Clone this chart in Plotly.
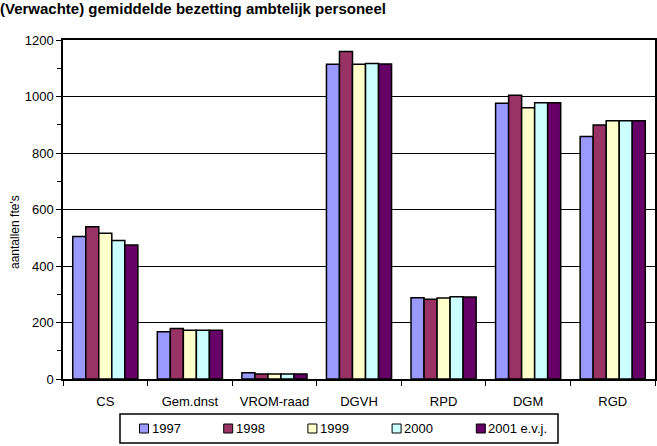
import plotly.graph_objects as go

categories = ["CS", "Gem.dnst", "VROM-raad", "DGVH", "RPD", "DGM", "RGD"]
series_names = ["1997", "1998", "1999", "2000", "2001 e.v.j."]
v1997 = [504, 167, 22, 1114, 288, 976, 858]
v1998 = [539, 179, 18, 1159, 282, 1004, 899]
v1999 = [516, 173, 18, 1114, 287, 960, 914]
v2000 = [490, 173, 18, 1117, 291, 978, 914]
v2001 = [474, 173, 18, 1115, 290, 978, 914]
series_values = [v1997, v1998, v1999, v2000, v2001]
colors = ["#9999FF", "#993366", "#FFFFCC", "#CCFFFF", "#660066"]

FONT = "Liberation Sans, Arial, Helvetica, sans-serif"

W, H = 657, 446
ML, MR, MT, MB = 63, 2, 40, 67
PW, PH = W - ML - MR, H - MT - MB


def px_x(px):
    return (px - ML) / PW


def px_y(py):
    return (H - MB - py) / PH


fig = go.Figure()
for name, vals, col in zip(series_names, series_values, colors):
    fig.add_trace(go.Bar(
        x=categories, y=vals, name=name, showlegend=False,
        marker=dict(color=col, line=dict(color="black", width=1.5)),
    ))

# Manual legend (box + swatches + labels)
shapes = [dict(type="rect", xref="paper", yref="paper",
               x0=px_x(120), x1=px_x(558), y0=px_y(443), y1=px_y(414),
               line=dict(color="black", width=1.5), fillcolor="white", layer="above")]
annotations = []
for i, (name, col) in enumerate(zip(series_names, colors)):
    sx = 139.5 + i * 84.2
    shapes.append(dict(type="rect", xref="paper", yref="paper",
                       x0=px_x(sx), x1=px_x(sx + 9), y0=px_y(433), y1=px_y(424),
                       line=dict(color="black", width=1), fillcolor=col, layer="above"))
    annotations.append(dict(text=name, xref="paper", yref="paper",
                            x=px_x(sx + 10), y=px_y(428.5), xanchor="left", yanchor="middle",
                            showarrow=False, font=dict(family=FONT, size=13)))

annotations.append(dict(text="aantallen fte's", xref="paper", yref="paper",
                        x=px_x(15), y=px_y(232), textangle=-90,
                        showarrow=False, xanchor="center", yanchor="middle",
                        font=dict(family=FONT, size=12)))

fig.update_layout(
    width=W, height=H,
    margin=dict(l=ML, r=MR, t=MT, b=MB, autoexpand=False),
    paper_bgcolor="white", plot_bgcolor="white",
    font=dict(family=FONT, size=13, color="black"),
    barmode="group", bargap=0.23, bargroupgap=0,
    title=dict(text="<b>(Verwachte) gemiddelde bezetting ambtelijk personeel</b>",
               xref="container", x=0.0, xanchor="left",
               yref="container", y=1 - 9 / H, yanchor="middle",
               font=dict(family=FONT, size=15, color="black")),
    showlegend=False,
    xaxis=dict(type="category", showline=True, linecolor="black", linewidth=1.5,
               mirror=True, ticks="outside", ticklen=5, tickcolor="black",
               tickson="boundaries", showgrid=False, ticklabelstandoff=10,
               automargin=False, tickfont=dict(family=FONT, size=13)),
    yaxis=dict(range=[0, 1200], dtick=200, showline=True, linecolor="black",
               linewidth=1.5, mirror=True, ticks="outside", ticklen=5,
               tickcolor="black", showgrid=True, gridcolor="black", gridwidth=1,
               zeroline=False, automargin=False, tickfont=dict(family=FONT, size=13),
               minor=dict(dtick=100, ticks="outside", ticklen=4, tickcolor="black", showgrid=False)),
    shapes=shapes,
    annotations=annotations,
)

fig.write_html("out.html", config={"displayModeBar": False},
               post_script="document.body.style.margin='0';")
